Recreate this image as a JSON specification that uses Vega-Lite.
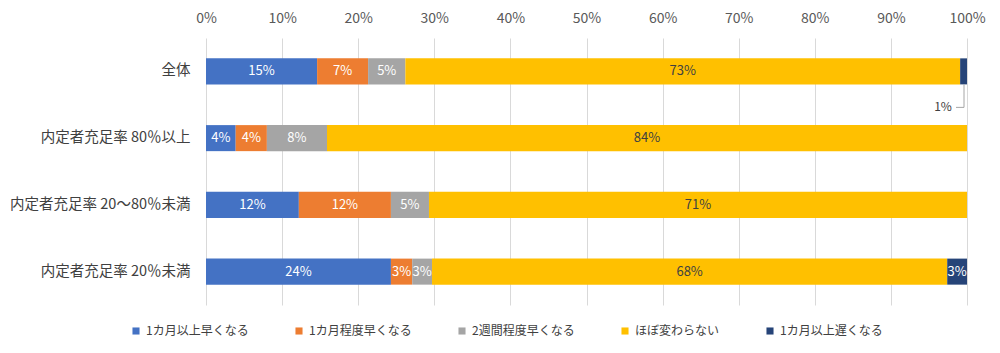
{
  "$schema": "https://vega.github.io/schema/vega-lite/v6.json",
  "width": 761,
  "height": 267,
  "autosize": {"type": "none"},
  "padding": {"left": 206, "top": 38, "right": 33, "bottom": 48},
  "background": "#ffffff",
  "config": {
    "view": {"stroke": null},
    "font": "Noto Sans CJK JP"
  },
  "data": {
    "values": [
      {"group": "全体", "cat": "1カ月以上早くなる", "o": 1, "v": 0.146},
      {"group": "全体", "cat": "1カ月程度早くなる", "o": 2, "v": 0.067},
      {"group": "全体", "cat": "2週間程度早くなる", "o": 3, "v": 0.049},
      {"group": "全体", "cat": "ほぼ変わらない", "o": 4, "v": 0.729},
      {"group": "全体", "cat": "1カ月以上遅くなる", "o": 5, "v": 0.009},
      {"group": "内定者充足率 80％以上", "cat": "1カ月以上早くなる", "o": 1, "v": 0.039},
      {"group": "内定者充足率 80％以上", "cat": "1カ月程度早くなる", "o": 2, "v": 0.041},
      {"group": "内定者充足率 80％以上", "cat": "2週間程度早くなる", "o": 3, "v": 0.079},
      {"group": "内定者充足率 80％以上", "cat": "ほぼ変わらない", "o": 4, "v": 0.841},
      {"group": "内定者充足率 20～80％未満", "cat": "1カ月以上早くなる", "o": 1, "v": 0.122},
      {"group": "内定者充足率 20～80％未満", "cat": "1カ月程度早くなる", "o": 2, "v": 0.121},
      {"group": "内定者充足率 20～80％未満", "cat": "2週間程度早くなる", "o": 3, "v": 0.05},
      {"group": "内定者充足率 20～80％未満", "cat": "ほぼ変わらない", "o": 4, "v": 0.707},
      {"group": "内定者充足率 20％未満", "cat": "1カ月以上早くなる", "o": 1, "v": 0.243},
      {"group": "内定者充足率 20％未満", "cat": "1カ月程度早くなる", "o": 2, "v": 0.028},
      {"group": "内定者充足率 20％未満", "cat": "2週間程度早くなる", "o": 3, "v": 0.026},
      {"group": "内定者充足率 20％未満", "cat": "ほぼ変わらない", "o": 4, "v": 0.677},
      {"group": "内定者充足率 20％未満", "cat": "1カ月以上遅くなる", "o": 5, "v": 0.026}
    ]
  },
  "transform": [
    {"stack": "v", "groupby": ["group"], "sort": [{"field": "o", "order": "ascending"}], "as": ["s0", "s1"]}
  ],
  "encoding": {
    "y": {
      "field": "group",
      "type": "nominal",
      "sort": ["全体", "内定者充足率 80％以上", "内定者充足率 20～80％未満", "内定者充足率 20％未満"],
      "scale": {"paddingInner": 0.61, "paddingOuter": 0.305},
      "axis": {
        "title": null,
        "domain": false,
        "ticks": false,
        "labelFontSize": 14.5,
        "labelColor": "#404040",
        "labelPadding": 16,
        "labelFont": "Noto Sans CJK JP",
        "labelLimit": 300
      }
    }
  },
  "layer": [
    {
      "mark": {"type": "bar"},
      "encoding": {
        "x": {
          "field": "s0",
          "type": "quantitative",
          "scale": {"domain": [0, 1], "nice": false},
          "axis": {
            "orient": "top",
            "title": null,
            "format": ".0%",
            "values": [0, 0.1, 0.2, 0.3, 0.4, 0.5, 0.6, 0.7, 0.8, 0.9, 1],
            "labelOverlap": false,
            "labelFlush": false,
            "labelBound": false,
            "domain": false,
            "ticks": false,
            "grid": true,
            "gridColor": "#d9d9d9",
            "gridWidth": 1,
            "labelFontSize": 14,
            "labelColor": "#595959",
            "labelPadding": 13,
            "labelFont": "Noto Sans CJK JP"
          }
        },
        "x2": {"field": "s1"},
        "color": {
          "field": "cat",
          "type": "nominal",
          "scale": {
            "domain": ["1カ月以上早くなる", "1カ月程度早くなる", "2週間程度早くなる", "ほぼ変わらない", "1カ月以上遅くなる"],
            "range": ["#4472C4", "#ED7D31", "#A5A5A5", "#FFC000", "#264478"]
          },
          "legend": {
            "title": null,
            "orient": "none",
            "direction": "horizontal",
            "legendX": -76,
            "legendY": 287,
            "columns": 5,
            "columnPadding": 44,
            "symbolType": "square",
            "symbolSize": 50,
            "symbolStrokeWidth": 0,
            "labelFontSize": 12,
            "labelColor": "#404040",
            "labelOffset": 4,
            "labelFont": "Noto Sans CJK JP"
          }
        },
        "order": {"field": "o"}
      }
    },
    {
      "transform": [
        {"filter": "!(datum.group == '全体' && datum.o == 5)"},
        {"fold": ["s0", "s1"], "as": ["edge", "pos"]}
      ],
      "mark": {"type": "text", "fontSize": 13, "font": "Noto Sans CJK JP"},
      "encoding": {
        "x": {"field": "pos", "type": "quantitative", "aggregate": "mean"},
        "detail": {"field": "cat"},
        "text": {"field": "v", "type": "quantitative", "aggregate": "max", "format": ".0%"},
        "color": {
          "condition": {"test": "datum.cat == 'ほぼ変わらない'", "value": "#404040"},
          "value": "#ffffff"
        }
      }
    },
    {
      "transform": [{"filter": "datum.group == '全体' && datum.o == 5"}],
      "mark": {"type": "text", "fontSize": 12, "font": "Noto Sans CJK JP", "color": "#404040", "dx": -24, "dy": 36},
      "encoding": {
        "x": {"field": "s1", "type": "quantitative"},
        "text": {"field": "v", "type": "quantitative", "format": ".0%"}
      }
    },
    {
      "transform": [{"filter": "datum.group == '全体' && datum.o == 5"}],
      "mark": {"type": "rule", "color": "#a6a6a6", "strokeWidth": 1, "yOffset": 13, "y2Offset": 36, "xOffset": -3},
      "encoding": {
        "x": {"field": "s1", "type": "quantitative"},
        "y2": {"field": "group"}
      }
    },
    {
      "transform": [{"filter": "datum.group == '全体' && datum.o == 5"}],
      "mark": {"type": "rule", "color": "#a6a6a6", "strokeWidth": 1, "yOffset": 36, "xOffset": -11, "x2Offset": -3},
      "encoding": {
        "x": {"field": "s1", "type": "quantitative"},
        "x2": {"field": "s1"}
      }
    }
  ]
}
